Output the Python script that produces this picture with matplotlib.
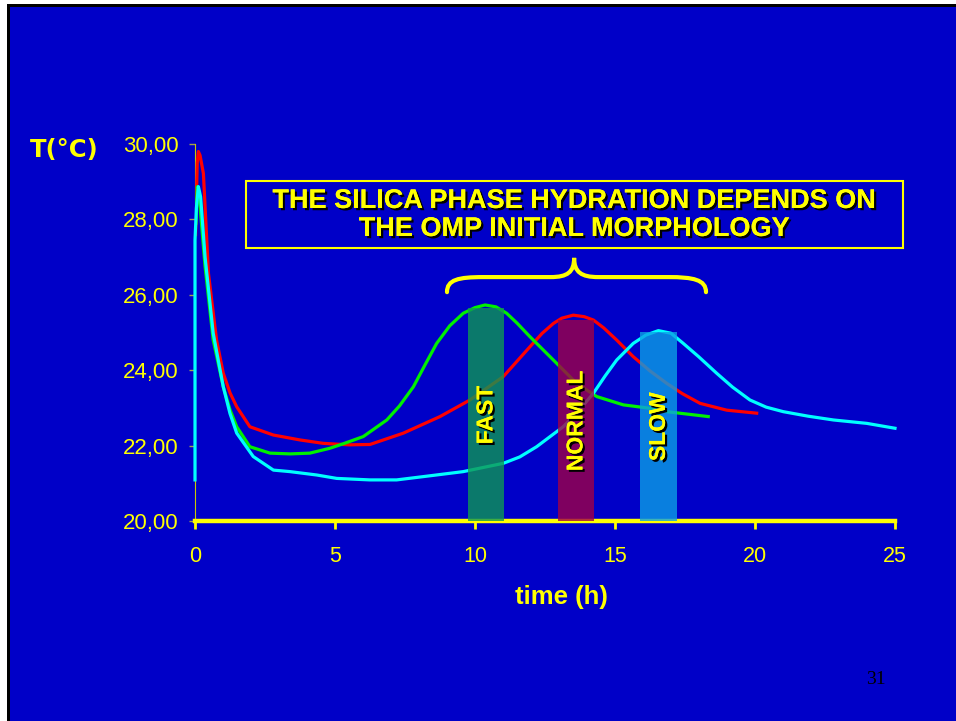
import matplotlib.pyplot as plt
import matplotlib.patheffects as pe
from matplotlib.patches import Rectangle, PathPatch
from matplotlib.path import Path

# Data
red_t = [0.02, 0.08, 0.12, 0.18, 0.3, 0.48, 0.77, 1.01, 1.25, 1.49, 1.96, 2.8, 3.75, 4.58, 5.5, 6.25,
         7.44, 8.75, 9.82, 11.01, 11.96, 12.4, 12.8, 13.1, 13.51, 13.9, 14.23, 14.6, 15.06, 15.65,
         16.25, 16.85, 17.4, 18.04, 18.99, 20.06]
red_T = [27.6, 29.5, 29.8, 29.7, 29.22, 26.57, 24.80, 23.92, 23.4, 23.03, 22.50, 22.28, 22.15, 22.06, 22.02, 22.03,
         22.33, 22.77, 23.21, 23.83, 24.62, 24.98, 25.24, 25.38, 25.46, 25.42, 25.33, 25.12, 24.80, 24.36,
         23.98, 23.65, 23.38, 23.12, 22.94, 22.86]

green_t = [0.03, 0.08, 0.14, 0.36, 0.65, 1.01, 1.25, 1.49, 1.96, 2.68, 3.4, 4.1, 4.82, 5.3, 6.01, 6.85,
           7.3, 7.8, 8.2, 8.63, 9.1, 9.58, 10.0, 10.36, 10.75, 11.13, 11.5, 11.96, 12.92, 13.63, 14.35, 15.3,
           16.25, 16.85, 18.33]
green_T = [27.9, 28.87, 28.7, 26.75, 24.8, 23.56, 22.95, 22.5, 21.97, 21.8, 21.78, 21.8, 21.93, 22.05, 22.24, 22.68,
           23.05, 23.56, 24.12, 24.71, 25.18, 25.51, 25.66, 25.73, 25.68, 25.51, 25.25, 24.89, 24.18, 23.65, 23.30,
           23.08, 22.99, 22.9, 22.77]

cyan_t = [0.0, 0.0, 0.05, 0.12, 0.2, 0.36, 0.65, 1.01, 1.25, 1.49, 2.08, 2.8, 3.39, 4.35, 5.06, 6.25, 7.2,
          8.4, 9.58, 11.01, 11.6, 12.2, 13.15, 13.7, 14.23, 14.65, 15.06, 15.65, 16.1, 16.55, 17.0, 17.44,
          18.0, 18.63, 19.2, 19.82, 20.4, 21.01, 21.9, 22.8, 23.99, 25.0]
cyan_T = [21.09, 27.45, 28.3, 28.87, 28.6, 27.0, 24.98, 23.56, 22.85, 22.33, 21.71, 21.35, 21.31, 21.22, 21.13, 21.09,
          21.09, 21.2, 21.31, 21.53, 21.7, 21.97, 22.5, 22.92, 23.39, 23.85, 24.27, 24.71, 24.93, 25.05, 24.98, 24.71,
          24.35, 23.92, 23.55, 23.21, 23.02, 22.9, 22.78, 22.68, 22.59, 22.46]

band_labels = ["FAST", "NORMAL", "SLOW"]
band_start = [9.74, 12.95, 15.9]
band_width = [1.3, 1.31, 1.3]
band_top = [25.65, 25.33, 25.02]
band_label_y = [22.81, 22.65, 22.5]
band_colors = ["#0e9854", "#a00046", "#0ca0e6"]

xticks = [0, 5, 10, 15, 20, 25]
yticks = [20, 22, 24, 26, 28, 30]

BLUE = "#0000c8"
YEL = "#ffff00"
shadow = [pe.withSimplePatchShadow(offset=(1.6, -1.6), shadow_rgbFace="black", alpha=1.0), pe.Normal()]

fig = plt.figure(figsize=(9.56, 7.21), dpi=100, facecolor="white")
# slide frame
fig.patches.append(Rectangle((7 / 956, 0), 1, 1 - 4 / 721, transform=fig.transFigure,
                             facecolor="black", edgecolor="none", zorder=-3))
fig.patches.append(Rectangle((10 / 956, 0), 1, 1 - 7 / 721, transform=fig.transFigure,
                             facecolor=BLUE, edgecolor="none", zorder=-2))

ax = fig.add_axes([195 / 956, 1 - 521 / 721, 700 / 956, 377 / 721])
ax.set_facecolor("none")

ax.plot(red_t, red_T, color="#ff0000", lw=2.3, zorder=3, solid_joinstyle="round")
ax.plot(green_t, green_T, color="#00f000", lw=2.3, zorder=3, solid_joinstyle="round")
ax.plot(cyan_t, cyan_T, color="#00ffff", lw=2.3, zorder=4, clip_on=False, solid_joinstyle="round")

ax.bar(band_start, [t - 20 for t in band_top], width=band_width, bottom=20, align="edge",
       color=band_colors, alpha=0.8, zorder=6, clip_on=False)
for x0, w, y, lab in zip(band_start, band_width, band_label_y, band_labels):
    ax.text(x0 + w / 2, y, lab, rotation=90, ha="center", va="center", color=YEL,
            fontsize=16.5, fontweight="bold", family="Liberation Sans", zorder=7, path_effects=shadow)

ax.set_xlim(0, 25)
ax.set_ylim(20, 30)
ax.set_xticks(xticks)
ax.set_xticklabels([str(v) for v in xticks])
ax.set_yticks(yticks)
ax.set_yticklabels([f"{v:.2f}".replace(".", ",") for v in yticks])

for s in ["top", "right"]:
    ax.spines[s].set_visible(False)
ax.spines["left"].set_color("#c8c800")
ax.spines["left"].set_linewidth(0.8)
ax.spines["bottom"].set_color(YEL)
ax.spines["bottom"].set_linewidth(3.2)
ax.spines["bottom"].set_zorder(5)
ax.tick_params(axis="x", colors=YEL, width=2, length=6, pad=12, labelsize=15.5)
ax.tick_params(axis="y", colors="#a0a050", width=1, length=4, pad=8, labelsize=16, labelcolor=YEL)
for lab in ax.get_xticklabels() + ax.get_yticklabels():
    lab.set_family("Liberation Sans")

# curly brace over the peaks
verts = [(9.0, 26.07), (9.0, 26.40), (9.4, 26.47), (10.3, 26.47),
         (12.7, 26.47),
         (13.3, 26.47), (13.54, 26.6), (13.54, 26.98),
         (13.54, 26.6), (13.8, 26.47), (14.4, 26.47),
         (16.9, 26.47),
         (17.8, 26.47), (18.25, 26.40), (18.25, 26.07)]
codes = [Path.MOVETO, Path.CURVE4, Path.CURVE4, Path.CURVE4,
         Path.LINETO,
         Path.CURVE4, Path.CURVE4, Path.CURVE4,
         Path.CURVE4, Path.CURVE4, Path.CURVE4,
         Path.LINETO,
         Path.CURVE4, Path.CURVE4, Path.CURVE4]
ax.add_patch(PathPatch(Path(verts, codes), facecolor="none", edgecolor=YEL, lw=3, capstyle="round"))

# title box
fig.patches.append(Rectangle((246 / 956, 1 - 248 / 721), 657 / 956, 67 / 721, transform=fig.transFigure,
                             facecolor="none", edgecolor=YEL, lw=1.5, zorder=2))
fig.text(575 / 956, 1 - 201 / 721, "THE SILICA PHASE HYDRATION DEPENDS ON", ha="center", va="center",
         color=YEL, fontsize=19.5, fontweight="bold", family="Liberation Sans", path_effects=shadow)
fig.text(575 / 956, 1 - 229 / 721, "THE OMP INITIAL MORPHOLOGY", ha="center", va="center",
         color=YEL, fontsize=19.5, fontweight="bold", family="Liberation Sans", path_effects=shadow)

fig.text(64 / 956, 1 - 150 / 721, "T(°C)", ha="center", va="center", color=YEL,
         fontsize=17.5, fontweight="bold", family="DejaVu Sans")
fig.text(561 / 956, 1 - 597 / 721, "time (h)", ha="center", va="center", color=YEL,
         fontsize=18.5, fontweight="bold", family="Liberation Sans")
fig.text(876 / 956, 1 - 679 / 721, "31", ha="center", va="center", color="black",
         fontsize=14, family="Liberation Serif")

fig.savefig("out.png", dpi=100, facecolor="white")
